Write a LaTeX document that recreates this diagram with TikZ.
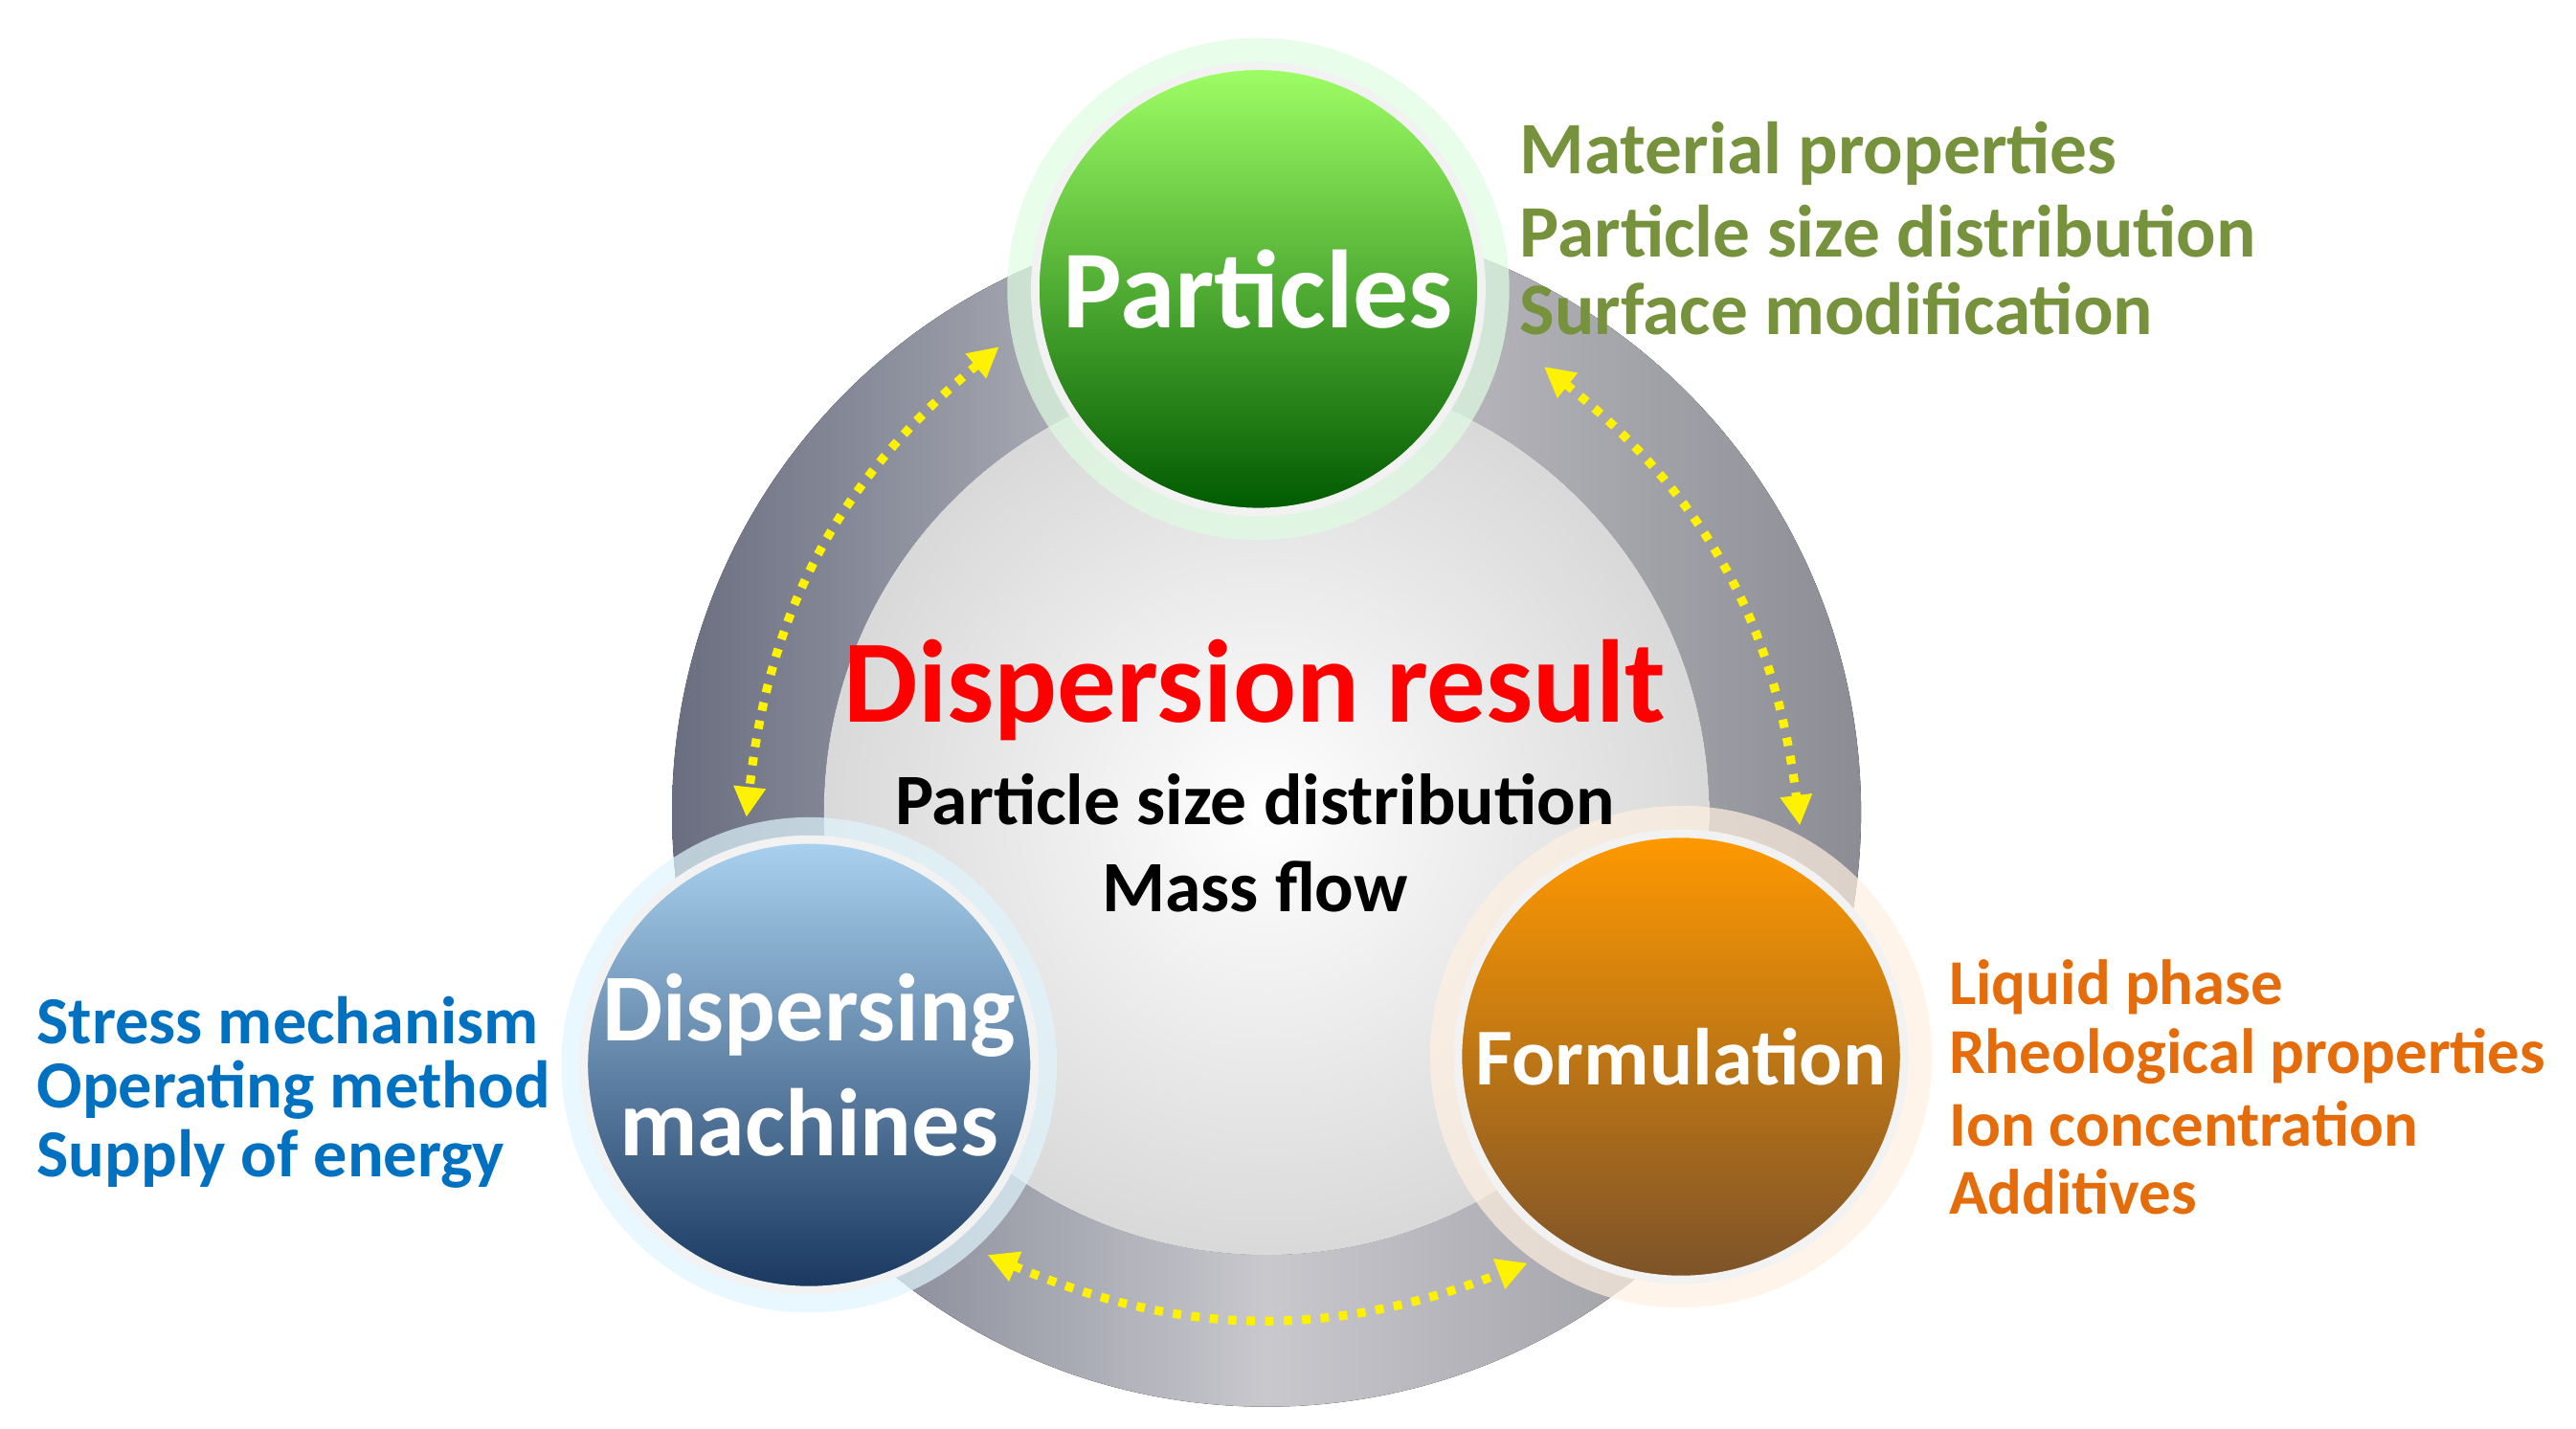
\documentclass[tikz,border=0pt]{standalone}
\usepackage{fontspec}
\setmainfont{Carlito}
\usetikzlibrary{arrows.meta}
\definecolor{pgreen}{RGB}{118,146,60}
\definecolor{pblue}{RGB}{0,112,192}
\definecolor{porange}{RGB}{228,108,10}
\definecolor{ringL}{RGB}{105,110,128}
\definecolor{ringM}{RGB}{200,200,205}
\definecolor{ringR}{RGB}{140,140,148}
\definecolor{bTop}{RGB}{170,210,240}
\definecolor{bBot}{RGB}{25,55,95}
\begin{document}
\begin{tikzpicture}[x=0.01725cm,y=-0.01725cm,
  side/.style={font=\bfseries\fontsize{20}{24}\selectfont,anchor=west,inner sep=0},
  arr/.style={draw=yellow,line width=2.6pt,dash pattern=on 2.5pt off 3pt,{Triangle[length=9pt,width=9pt,fill=yellow]}-{Triangle[length=9pt,width=9pt,fill=yellow]}},
  ball/.style={circle,draw=white!90!gray,line width=2.5pt,text=white,font=\bfseries,align=center,inner sep=0}]
\useasboundingbox (0,0) rectangle (1560,865);
% ring
\fill[left color=ringL,right color=ringR,middle color=ringM,even odd rule]
  (767,492) circle (360) (767,492) circle (268);
\shade[inner color=white,outer color=gray!30] (767,492) circle (268);
% glows
\fill[blue!10!green!12,opacity=.7] (762,175) circle (152);
\fill[cyan!12,opacity=.7] (490,645) circle (150);
\fill[orange!12,opacity=.7] (1018,640) circle (152);
% balls
\node[ball,minimum size=4.66cm,top color=green!50!lime!60,bottom color=green!35!black,font=\bfseries\fontsize{33}{36}\selectfont] (p) at (762,175) {Particles};
\node[ball,minimum size=4.49cm,top color=bTop,bottom color=bBot,font=\bfseries\fontsize{28.5}{34}\selectfont] (d) at (490,645) {Dispersing\\machines};
\node[ball,minimum size=4.66cm,top color=orange!80!yellow,bottom color=brown!65!black,font=\bfseries\fontsize{24}{28}\selectfont] (f) at (1018,640) {Formulation};
% center
\node[text=red,font=\bfseries\fontsize{35}{40}\selectfont] (t) at (760,418) {Dispersion result};
\node[font=\bfseries\fontsize{21.5}{25}\selectfont] (t2) at (760,484) {Particle size distribution};
\node[font=\bfseries\fontsize{21.5}{25}\selectfont] (t3) at (760,537) {Mass flow};
% side texts
\node[side,text=pgreen,font=\bfseries\fontsize{22}{26}\selectfont] (g1) at (920,93) {Material properties};
\node[side,text=pgreen,font=\bfseries\fontsize{22}{26}\selectfont] (g2) at (920,140) {Particle size distribution};
\node[side,text=pgreen,font=\bfseries\fontsize{22}{26}\selectfont] (g3) at (920,187) {Surface modification};
\node[side,text=pblue] (b1) at (22,618) {Stress mechanism};
\node[side,text=pblue] (b2) at (22,660) {Operating method};
\node[side,text=pblue] (b3) at (22,702) {Supply of energy};
\node[side,text=porange,font=\bfseries\fontsize{19}{24}\selectfont] (o1) at (1180,598) {Liquid phase};
\node[side,text=porange,font=\bfseries\fontsize{19}{24}\selectfont] (o2) at (1180,640) {Rheological properties};
\node[side,text=porange,font=\bfseries\fontsize{19}{24}\selectfont] (o3) at (1180,681) {Ion concentration};
\node[side,text=porange,font=\bfseries\fontsize{19}{24}\selectfont] (o4) at (1180,722) {Additives};
% arrows
\coordinate (a1) at (605,210); \coordinate (a2) at (452,495);
\coordinate (b1c) at (935,222); \coordinate (b2c) at (1090,500);
\coordinate (c1) at (598,760); \coordinate (c2) at (925,765);
\draw[arr] (a1) to[bend right=22] (a2);
\draw[arr] (b1c) to[bend left=22] (b2c);
\draw[arr] (c1) to[bend right=22] (c2);
\end{tikzpicture}
\end{document}
